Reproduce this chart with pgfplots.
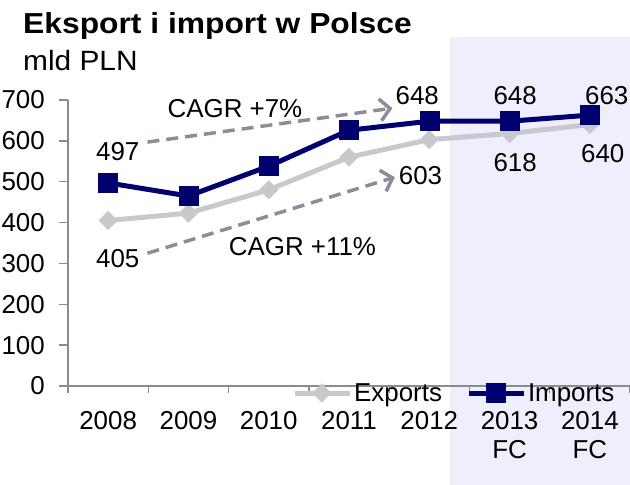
\documentclass[border=0pt]{standalone}
\usepackage{pgfplots}
\pgfplotsset{compat=1.18}
\usepackage{fontspec}
\setmainfont{Liberation Sans}
\usetikzlibrary{arrows.meta}
\definecolor{impc}{RGB}{0,0,110}
\definecolor{expc}{RGB}{200,200,205}
\definecolor{shadec}{RGB}{238,238,252}
\definecolor{axisgray}{RGB}{140,140,140}
\definecolor{arrowc}{RGB}{138,142,155}
\newcommand{\lbl}{\fontsize{26}{29}\selectfont}
\begin{document}
\begin{tikzpicture}[x=1bp,y=1bp]
\useasboundingbox (0,0) rectangle (630,485);
\fill[shadec] (450,0) rectangle (630,448);
\node[anchor=base west, inner sep=0pt, xscale=1.1, font=\bfseries\fontsize{29}{30}\selectfont] at (23,451) {Eksport i import w Polsce};
\node[anchor=base west, inner sep=0pt, xscale=1.07, font=\fontsize{28}{30}\selectfont] at (23,414) {mld PLN};
\begin{axis}[
  at={(68bp,99bp)}, anchor=south west,
  scale only axis, width=562bp, height=286bp,
  xmin=-0.5, xmax=6.5, ymin=0, ymax=700,
  clip=false,
  axis x line*=bottom, axis y line*=left,
  axis line style={-, draw=axisgray, line width=1.5bp},
  tick align=outside,
  major tick length=9bp, minor tick length=7bp,
  tick style={draw=axisgray, line width=1.3bp},
  xtick={0,...,6},
  xticklabels={2008,2009,2010,2011,2012,{2013\\FC},{2014\\FC}},
  major x tick style={draw=none},
  minor xtick={-0.5,0.5,...,6.5},
  ytick={0,100,...,700},
  tick label style={font=\lbl},
  xticklabel style={align=center, anchor=north, inner sep=0pt, yshift=-16bp},
  yticklabel style={anchor=east, inner sep=0pt, xshift=-14bp},
  /pgf/number format/assume math mode=true,
  legend style={at={(0.3986,-0.0245)}, anchor=west, draw=none, fill=none, inner sep=0pt,
    font=\lbl, legend columns=2,
    /tikz/every even column/.append style={column sep=22bp}},
  legend cell align=left,
  legend image code/.code={\draw[mark repeat=2,mark phase=2,#1] plot coordinates {(0bp,0bp) (27bp,0bp) (55bp,0bp)};},
]
\addplot[color=expc, line width=5bp, mark=square*, mark size=6.5bp,
  mark options={rotate=45, fill=expc, draw=expc, line width=0.5bp}]
  coordinates {(0,405)(1,423)(2,480)(3,560)(4,603)(5,618)(6,640)};
\addlegendentry{Exports}
\addplot[color=impc, line width=5bp, mark=square*, mark size=9.5bp,
  mark options={fill=impc, draw=impc, line width=0.5bp}]
  coordinates {(0,497)(1,465)(2,538)(3,626)(4,648)(5,648)(6,663)};
\addlegendentry{Imports}
\draw[arrowc, line width=3.5bp, dash pattern=on 12bp off 7bp, -{Straight Barb[length=10bp, width=22bp]}]
  (axis cs:0.49,597) -- (axis cs:3.54,680);
\draw[arrowc, line width=3.5bp, dash pattern=on 12bp off 7bp, -{Straight Barb[length=10bp, width=22bp]}]
  (axis cs:0.49,325) -- (axis cs:3.57,511);
\node[font=\lbl] at (axis cs:0.12,573) {497};
\node[font=\lbl] at (axis cs:0.12,311) {405};
\node[font=\lbl] at (axis cs:1.58,680) {CAGR +7\%};
\node[font=\lbl] at (axis cs:2.42,340) {CAGR +11\%};
\node[font=\lbl] at (axis cs:3.85,710) {648};
\node[font=\lbl] at (axis cs:3.89,516) {603};
\node[font=\lbl] at (axis cs:5.07,710) {648};
\node[font=\lbl] at (axis cs:5.07,548) {618};
\node[font=\lbl] at (axis cs:6.21,712) {663};
\node[font=\lbl] at (axis cs:6.16,570) {640};
\end{axis}
\end{tikzpicture}
\end{document}
